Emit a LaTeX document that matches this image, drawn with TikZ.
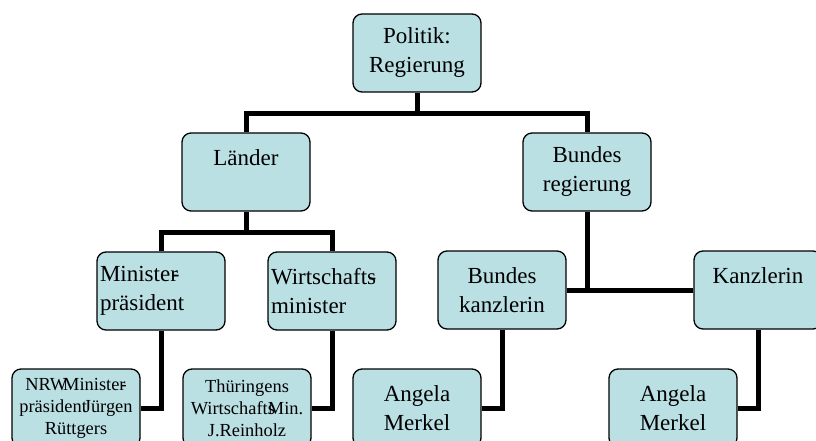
\documentclass[tikz,border=0pt]{standalone}
\usepackage{fontspec}
\setmainfont{Liberation Serif}
\definecolor{boxfill}{RGB}{186,224,228}
\newcommand\bigtxt{\fontsize{23}{29}\selectfont}
\newcommand\smalltxt{\fontsize{18.4}{22}\selectfont}
\begin{document}
\begin{tikzpicture}[x=1pt,y=-1pt,
  orgbox/.style={draw=black, fill=boxfill, line width=1.3pt, rounded corners=9pt,
    minimum width=128pt, minimum height=78pt, inner sep=0pt, align=center, font=\bigtxt},
  leftbox/.style={orgbox, align=left, text width=122pt},
  namebox/.style={orgbox, font=\smalltxt},
  conn/.style={line width=5pt, line join=miter}]
\useasboundingbox (0,0) rectangle (816,441);

% top level
\node[orgbox] (pol) at (417,53) {Politik:\\Regierung};
% second level
\node[orgbox] (laender) at (246,172) {Länder\\\mbox{}};
\node[orgbox] (bund) at (587,172) {Bundes\\regierung};
% third level
\node[leftbox] (mp) at (161,291) {Minister\kern-6pt-\\präsident};
\node[leftbox] (wm) at (332,291) {Wirtschafts\kern-7.5pt-\\minister};
\node[orgbox] (bk) at (502,290) {Bundes\\kanzlerin};
\node[orgbox] (kz) at (758,290) {Kanzlerin\\\mbox{}};
% persons
\node[namebox] (nrw) at (76,408) {NRW\kern-4pt Minister\kern-5pt-\\präsident\kern-3pt Jürgen\\Rüttgers};
\node[namebox] (thu) at (247,408) {Thüringens\\Wirtschafts\kern-7pt Min.\\J.Reinholz};
\node[orgbox] (am1) at (417,408) {Angela\\Merkel};
\node[orgbox] (am2) at (673,408) {Angela\\Merkel};

% junction heights
\coordinate (bar1) at (0,114);
\coordinate (bar2) at (0,232);
\coordinate (bar3) at (0,290);
\coordinate (bar4) at (0,408);

% connectors
\draw[conn] (pol.south) -- (pol.south |- bar1);
\draw[conn] (laender.north) -- (laender.north |- bar1) -- (bund.north |- bar1) -- (bund.north);
\draw[conn] (laender.south) -- (laender.south |- bar2);
\draw[conn] (mp.north) -- (mp.north |- bar2) -- (wm.north |- bar2) -- (wm.north);
\draw[conn] (bund.south) -- (bund.south |- bar3);
\draw[conn] (bk.east) -- (kz.west);
\draw[conn] (mp.south) -- (mp.south |- bar4) -- (nrw.east);
\draw[conn] (wm.south) -- (wm.south |- bar4) -- (thu.east);
\draw[conn] (bk.south) -- (bk.south |- bar4) -- (am1.east);
\draw[conn] (kz.south) -- (kz.south |- bar4) -- (am2.east);
\end{tikzpicture}
\end{document}
